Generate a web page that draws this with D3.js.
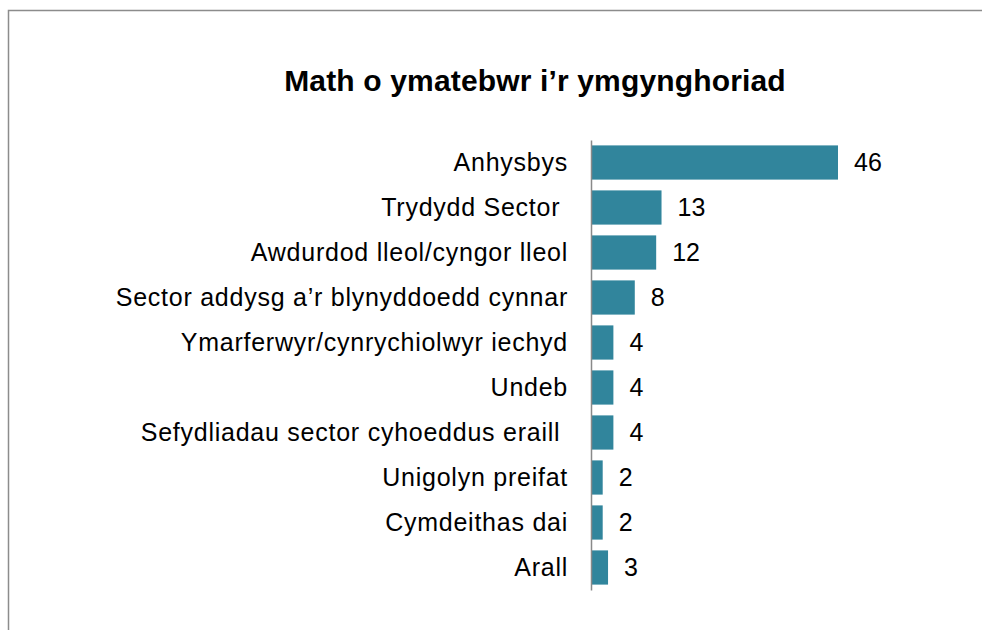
<!DOCTYPE html>
<html>
<head>
<meta charset="utf-8">
<script src="https://cdn.jsdelivr.net/npm/d3@7"></script>
<style>
  body { margin: 0; background: #fff; }
  svg text { font-family: Arial, "Liberation Sans", sans-serif; fill: #000; white-space: pre; }
</style>
</head>
<body>
<svg id="chart"></svg>
<script>
// chart data
var categories = [
  "Anhysbys",
  "Trydydd Sector ",
  "Awdurdod lleol/cyngor lleol",
  "Sector addysg a\u2019r blynyddoedd cynnar",
  "Ymarferwyr/cynrychiolwyr iechyd",
  "Undeb",
  "Sefydliadau sector cyhoeddus eraill ",
  "Unigolyn preifat",
  "Cymdeithas dai",
  "Arall"
];
var values = [46, 13, 12, 8, 4, 4, 4, 2, 2, 3];
var title = "Math o ymatebwr i\u2019r ymgynghoriad";

var W = 982, H = 630;
var margin = { top: 140, left: 591, bottom: 40 };

var svg = d3.select("#chart")
  .attr("width", W)
  .attr("height", H);

// outer frame (only top and left edges visible)
svg.append("rect")
  .attr("x", 8.5)
  .attr("y", 10.5)
  .attr("width", 1000)
  .attr("height", 700)
  .attr("fill", "none")
  .attr("stroke", "#8c8c8c")
  .attr("stroke-width", 1.5);

svg.append("text")
  .attr("x", 535)
  .attr("y", 91)
  .attr("text-anchor", "middle")
  .style("font-size", "30px")
  .style("font-weight", "bold")
  .style("letter-spacing", "0.15px")
  .text(title);

var x = d3.scaleLinear()
  .domain([0, 46])
  .range([0, 246]);

var y = d3.scaleBand()
  .domain(categories)
  .range([0, 450])
  .paddingInner(0.24)
  .paddingOuter(0.12);

var g = svg.append("g")
  .attr("transform", "translate(" + margin.left + "," + margin.top + ")");

g.selectAll(".bar")
  .data(values)
  .enter()
  .append("rect")
  .attr("class", "bar")
  .attr("x", 1)
  .attr("y", function (d, i) { return y(categories[i]); })
  .attr("width", function (d) { return x(d); })
  .attr("height", y.bandwidth())
  .attr("fill", "#31859c");

g.selectAll(".val")
  .data(values)
  .enter()
  .append("text")
  .attr("class", "val")
  .attr("x", function (d) { return x(d) + 17; })
  .attr("y", function (d, i) { return y(categories[i]) + y.bandwidth() / 2; })
  .attr("dy", "0.35em")
  .style("font-size", "25px")
  .text(function (d) { return d; });

var yAxis = g.append("g")
  .call(d3.axisLeft(y).tickSize(0).tickPadding(23).tickSizeOuter(0));

yAxis.select(".domain")
  .attr("stroke", "#898989")
  .attr("stroke-width", 1.5);

yAxis.selectAll("text")
  .style("font-size", "25px")
  .style("letter-spacing", "0.75px")
  .style("font-family", "Arial, 'Liberation Sans', sans-serif")
  .attr("fill", "#000");
</script>
</body>
</html>
